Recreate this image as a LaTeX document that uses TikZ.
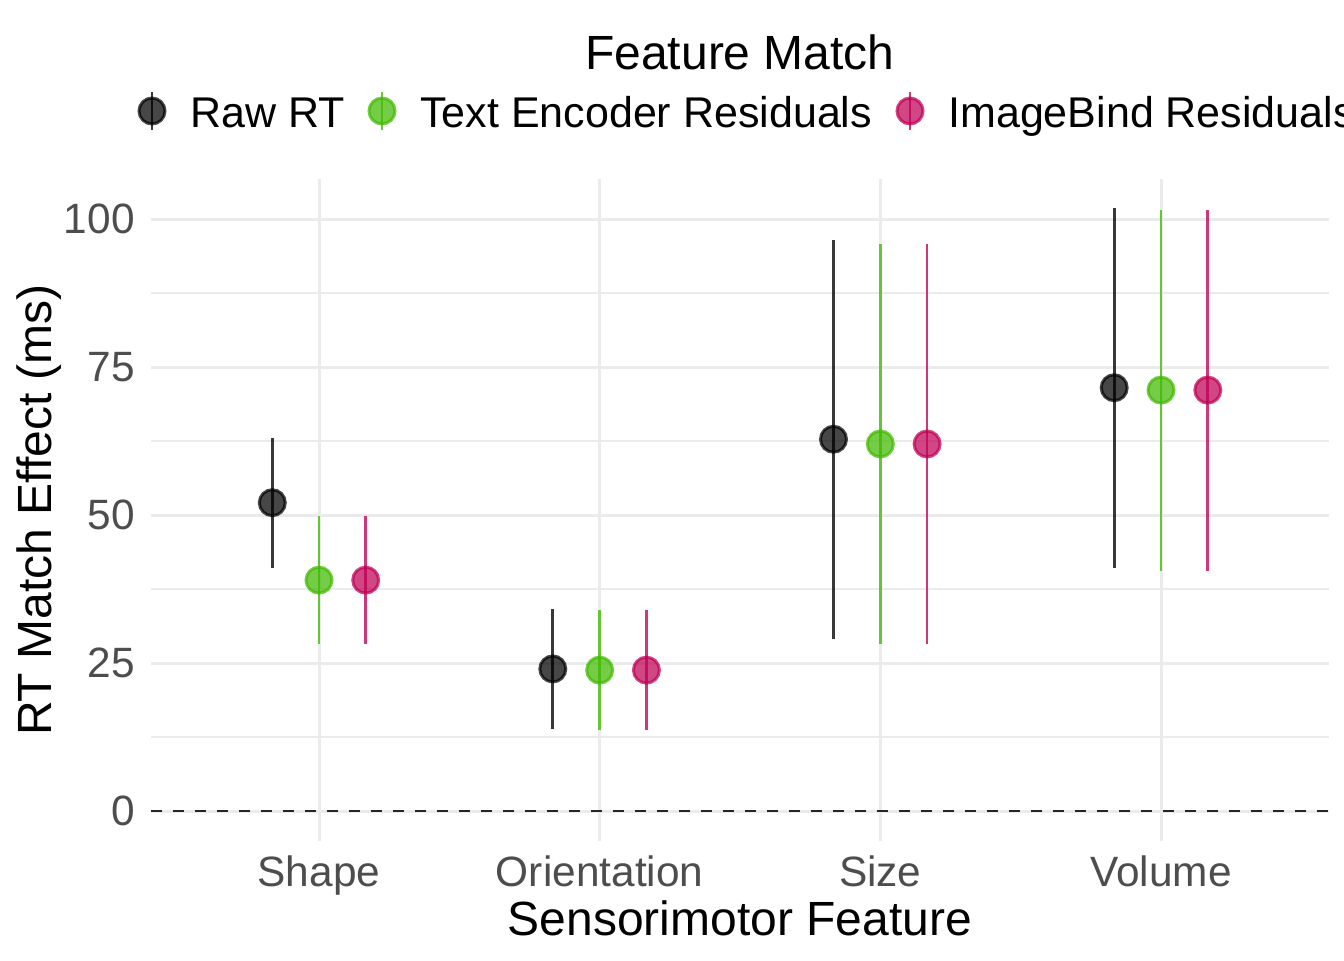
\documentclass[tikz,border=0pt]{standalone}
\usepackage{fontspec}
\setmainfont{Liberation Sans}
\definecolor{gridc}{HTML}{EBEBEB}
\definecolor{tickc}{HTML}{4D4D4D}
\definecolor{rawc}{RGB}{0,0,0}
\definecolor{txtc}{RGB}{64,187,0}
\definecolor{ibc}{RGB}{192,0,85}
\tikzset{
  majorgrid/.style={draw=gridc, line width=1.5pt},
  minorgrid/.style={draw=gridc, line width=0.75pt},
  zeroline/.style={draw=black!85, line width=1.35pt, dash pattern=on 5.5pt off 5.5pt},
  errbar/.style={line width=1.35pt, draw opacity=0.78},
  pt/.style={circle, inner sep=0pt, minimum size=13pt, line width=1.5pt, fill opacity=0.72, draw opacity=0.72},
  ticklab/.style={text=tickc, font=\fontsize{21.2pt}{25pt}\selectfont, inner sep=0pt},
  legtext/.style={text=black, font=\fontsize{21.5pt}{25pt}\selectfont, inner sep=0pt, anchor=base west},
  axtitle/.style={text=black, font=\fontsize{24pt}{28pt}\selectfont, inner sep=0pt},
}
% x, estimate, low, high, colour, name
\newcommand\prange[6]{%
  \coordinate (#6lo) at (#1,{811-5.92*(#3)});
  \coordinate (#6hi) at (#1,{811-5.92*(#4)});
  \draw[errbar,draw=#5] (#6lo) -- (#6hi);
  \node[pt,draw=#5,fill=#5] (#6) at (#1,{811-5.92*(#2)}) {};
}
% x, colour, name
\newcommand\legkey[3]{%
  \coordinate (#3top) at (#1,92);
  \coordinate (#3bot) at (#1,130);
  \draw[errbar,draw=#2] (#3top) -- (#3bot);
  \node[pt,draw=#2,fill=#2] (#3) at (#1,111) {};
}
\begin{document}
\begin{tikzpicture}[x=0.5pt,y=-0.5pt]
\useasboundingbox (0,0) rectangle (1344,960);
\fill[white] (0,0) rectangle (1344,960);

% minor grid
\foreach \v in {12.5,37.5,62.5,87.5}
  \draw[minorgrid] (150.6,{811-5.92*\v}) -- (1329.4,{811-5.92*\v});
% major grid
\foreach \v in {0,25,50,75,100}
  \draw[majorgrid] (150.6,{811-5.92*\v}) -- (1329.4,{811-5.92*\v});
\foreach \x in {319,599.67,880.33,1161}
  \draw[majorgrid] (\x,179) -- (\x,841);

% zero reference line
\coordinate (zl) at (150.6,811);
\coordinate (zr) at (1329.4,811);
\draw[zeroline] (zl) -- (zr);

% Shape
\prange{272.3}{52.08}{41.1}{62.96}{rawc}{shraw}
\prange{319}{39.0}{28.2}{49.9}{txtc}{shtxt}
\prange{365.7}{39.0}{28.2}{49.9}{ibc}{shib}
% Orientation
\prange{552.8}{24.0}{13.8}{34.2}{rawc}{orraw}
\prange{599.67}{23.8}{13.7}{34.0}{txtc}{ortxt}
\prange{646.4}{23.8}{13.7}{34.0}{ibc}{orib}
% Size
\prange{833.5}{62.8}{29.0}{96.5}{rawc}{szraw}
\prange{880.33}{62.0}{28.2}{95.7}{txtc}{sztxt}
\prange{927.1}{62.0}{28.2}{95.7}{ibc}{szib}
% Volume
\prange{1114.2}{71.5}{41.0}{101.8}{rawc}{voraw}
\prange{1161}{71.1}{40.6}{101.5}{txtc}{votxt}
\prange{1207.8}{71.1}{40.6}{101.5}{ibc}{voib}

% y tick labels
\node[ticklab,anchor=east] (y0) at (135,811) {0};
\node[ticklab,anchor=east] (y25) at (135,663) {25};
\node[ticklab,anchor=east] (y50) at (135,515) {50};
\node[ticklab,anchor=east] (y75) at (135,367) {75};
\node[ticklab,anchor=east] (y100) at (135,219) {100};

% x tick labels
\node[ticklab,anchor=base] (xsh) at (319,886) {Shape};
\node[ticklab,anchor=base] (xor) at (599.67,886) {Orientation};
\node[ticklab,anchor=base] (xsz) at (880.33,886) {Size};
\node[ticklab,anchor=base] (xvo) at (1161,886) {Volume};

% axis titles
\node[axtitle,anchor=base] (xtitle) at (740,935) {Sensorimotor Feature};
\node[axtitle,anchor=base,rotate=90] (ytitle) at (51,510) {RT Match Effect (ms)};

% legend
\node[axtitle,anchor=base] (legtitle) at (740,69) {Feature Match};
\legkey{152}{rawc}{kraw}
\legkey{382}{txtc}{ktxt}
\legkey{910}{ibc}{kib}
\node[legtext] (lraw) at (190,127) {Raw RT};
\node[legtext] (ltxt) at (420,127) {Text Encoder Residuals};
\node[legtext] (lib) at (948,127) {ImageBind Residuals};
\end{tikzpicture}
\end{document}
